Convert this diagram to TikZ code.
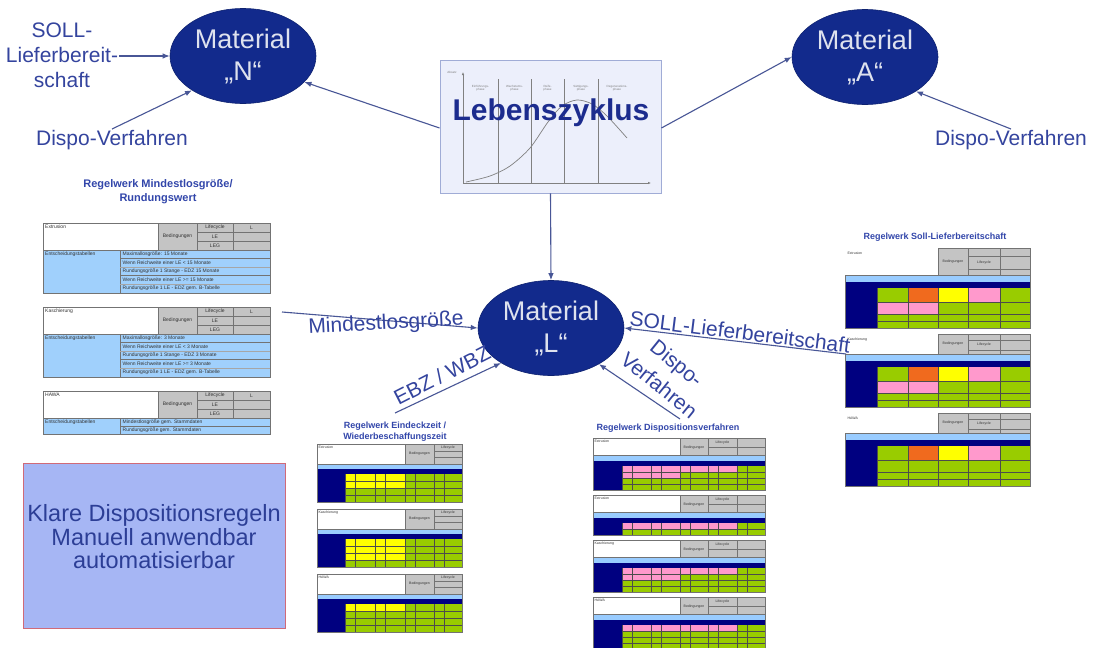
\documentclass[tikz,border=0pt]{standalone}
\usepackage{fontspec}
\setmainfont{Liberation Sans}
\usetikzlibrary{arrows.meta,shapes.geometric}

\definecolor{navyfill}{RGB}{18,42,140}
\definecolor{mattxt}{RGB}{222,226,238}
\definecolor{labcol}{RGB}{52,68,158}
\definecolor{conncol}{RGB}{72,86,150}
\definecolor{ttlcol}{RGB}{50,70,170}
\definecolor{lzfill}{RGB}{236,239,251}
\definecolor{lzdraw}{RGB}{160,172,214}
\definecolor{lztxt}{RGB}{28,44,142}
\definecolor{cellgray}{RGB}{196,196,196}
\definecolor{tabblue}{RGB}{160,208,252}
\definecolor{stripblue}{RGB}{153,204,255}
\definecolor{xlnavy}{RGB}{0,0,128}
\definecolor{xlgreen}{RGB}{153,204,0}
\definecolor{xlyellow}{RGB}{255,255,0}
\definecolor{xlpink}{RGB}{255,153,204}
\definecolor{xlorange}{RGB}{240,106,30}
\definecolor{klarfill}{RGB}{166,182,244}
\definecolor{klardraw}{RGB}{208,106,120}
\definecolor{klartxt}{RGB}{44,62,150}

\tikzset{
  labtxt/.style={text=labcol, font=\fontsize{21}{25}\selectfont, align=center, inner sep=1pt},
  matel/.style={ellipse, fill=navyfill, draw=navyfill!80!black, line width=0.6pt,
    minimum width=146pt, minimum height=95pt, inner sep=0pt, text=mattxt,
    font=\fontsize{27}{32}\selectfont, align=center},
  conn/.style={draw=conncol, line width=1.1pt, -{Latex[length=7pt,width=5.5pt]}},
  tabline/.style={draw=black!55, line width=0.35pt},
  gridline/.style={draw=black!70, line width=0.3pt},
  tinytxt/.style={font=\fontsize{5}{5.5}\selectfont, inner sep=0.5pt, text=black!80},
  tinytxtb/.style={font=\fontsize{3.5}{4}\selectfont, inner sep=0.4pt, text=black!80},
  ttl/.style={font=\bfseries\fontsize{9}{11}\selectfont, text=ttlcol, align=center, inner sep=0pt},
  chartline/.style={draw=black!50, line width=0.7pt},
  phasetxt/.style={font=\fontsize{3}{3.4}\selectfont, text=black!50, align=center, inner sep=0pt},
}

% table with plant header and rule text (Mindestlosgröße)
\newcommand\mlHead[1]{%
  \draw[tabline,fill=white] (0,0) rectangle (115,27);
  \node[tinytxt,anchor=north west] at (1.5,1.5) {#1};
  \draw[tabline,fill=cellgray] (115,0) rectangle (227,27);
  \draw[tabline] (154,0) -- (154,27) (190,0) -- (190,27) (154,9) -- (227,9) (154,18) -- (227,18);
  \node[tinytxt] at (134.5,13.5) {Bedingungen};
  \node[tinytxt] at (172,4.5) {Lifecycle};
  \node[tinytxt] at (208.5,4.5) {L};
  \node[tinytxt] at (172,13.5) {LE};
  \node[tinytxt] at (172,22.5) {LEG};
}
\newcommand\mlRows[5]{%
  \draw[tabline,fill=tabblue] (0,27) rectangle (227,70);
  \draw[tabline] (77,27) -- (77,70) (77,35) -- (227,35) (77,52) -- (227,52);
  \draw[tabline,draw=black!35] (77,44) -- (227,44) (77,61) -- (227,61);
  \node[tinytxt,anchor=north west] at (1.5,28.5) {Entscheidungstabellen};
  \node[tinytxt,anchor=west] at (79,31) {#1};
  \node[tinytxt,anchor=west] at (79,39.5) {#2};
  \node[tinytxt,anchor=west] at (79,48) {#3};
  \node[tinytxt,anchor=west] at (79,56.5) {#4};
  \node[tinytxt,anchor=west] at (79,65.5) {#5};
}
% Eindeckzeit table: #1 plant, #2 number of yellow rows
\newcommand\ezTab[2]{%
  \draw[tabline,fill=white] (0,0) rectangle (88,20);
  \node[tinytxtb,anchor=north west] at (1,1) {#1};
  \draw[tabline,fill=cellgray] (88,0) rectangle (145,20);
  \draw[tabline] (117,0) -- (117,20) (117,7) -- (145,7) (117,13) -- (145,13);
  \node[tinytxtb] at (102.5,10) {Bedingungen};
  \node[tinytxtb] at (131,3.5) {Lifecycle};
  \fill[stripblue] (0,20) rectangle (145,25);
  \fill[xlnavy] (0,25) rectangle (145,30);
  \fill[xlnavy] (0,30) rectangle (28,58);
  \fill[xlgreen] (28,30) rectangle (145,58);
  \fill[xlyellow] (28,30) rectangle (88,30+7*#2);
  \draw[gridline] (28,37) -- (145,37) (28,44) -- (145,44) (28,51) -- (145,51);
  \foreach \gx in {28,38,58,68,88,98,117,127} {\draw[gridline] (\gx,30) -- (\gx,58);}
  \draw[tabline] (0,20) rectangle (145,58);
}
% Dispositionsverfahren table: #1 plant, #2 rows, #3 second pink row
\newcommand\dvTab[3]{%
  \draw[tabline,fill=white] (0,0) rectangle (87,17);
  \node[tinytxtb,anchor=north west] at (1,1) {#1};
  \draw[tabline,fill=cellgray] (87,0) rectangle (172,17);
  \draw[tabline] (115,0) -- (115,17) (144,0) -- (144,17) (115,9) -- (172,9);
  \node[tinytxtb] at (101,9.5) {Bedingungen};
  \node[tinytxtb] at (129.5,4.5) {Lifecycle};
  \fill[stripblue] (0,17) rectangle (172,23);
  \fill[xlnavy] (0,23) rectangle (172,28);
  \fill[xlnavy] (0,28) rectangle (29,28+6*#2);
  \fill[xlgreen] (29,28) rectangle (172,28+6*#2);
  \fill[xlpink] (29,28) rectangle (144,34);
  \ifnum#3=1 \fill[xlpink] (29,34) rectangle (87,40); \fi
  \pgfmathtruncatemacro\dvlast{#2-1}%
  \foreach \r in {1,...,\dvlast} {\draw[gridline] (29,28+6*\r) -- (172,28+6*\r);}
  \foreach \gx in {29,39,58,68,87,97,115,125,144,154} {\draw[gridline] (\gx,28) -- (\gx,28+6*#2);}
  \draw[tabline] (0,17) rectangle (172,28+6*#2);
}
% Soll-Lieferbereitschaft table: #1 plant, #2 header height, #3 second pink row
\newcommand\slTab[3]{%
  \node[tinytxtb,anchor=north west] at (2,3) {#1};
  \draw[tabline,fill=cellgray] (93,0) rectangle (185,#2);
  \draw[tabline] (123,0) -- (123,#2) (155,0) -- (155,#2)
    (123,#2*0.3) -- (185,#2*0.3) (123,#2*0.8) -- (185,#2*0.8);
  \node[tinytxtb] at (108,#2*0.5) {Bedingungen};
  \node[tinytxtb] at (139,#2*0.55) {Lifecycle};
  \fill[stripblue] (0,#2) rectangle (185,#2+7);
  \fill[xlnavy] (0,#2+7) rectangle (185,#2+13);
  \fill[xlnavy] (0,#2+13) rectangle (32,#2+53);
  \fill[xlgreen] (32,#2+13) rectangle (185,#2+53);
  \fill[xlorange] (63,#2+13) rectangle (93,#2+27);
  \fill[xlyellow] (93,#2+13) rectangle (123,#2+27);
  \fill[xlpink] (123,#2+13) rectangle (155,#2+27);
  \ifnum#3=1 \fill[xlpink] (32,#2+27) rectangle (93,#2+39); \fi
  \draw[gridline] (32,#2+27) -- (185,#2+27) (32,#2+39) -- (185,#2+39) (32,#2+46) -- (185,#2+46);
  \foreach \gx in {32,63,93,123,155} {\draw[gridline] (\gx,#2+13) -- (\gx,#2+53);}
  \draw[tabline] (0,#2) rectangle (185,#2+53);
}

\begin{document}
\begin{tikzpicture}[x=1pt,y=-1pt]
\useasboundingbox (0,0) rectangle (1096,648);
\fill[white] (0,0) rectangle (1096,648);

% ---------- material ellipses ----------
\node[matel] (N) at (243,56) {Material\\„N“};
\node[matel] (A) at (865,57) {Material\\„A“};
\node[matel] (L) at (551,328) {Material\\„L“};

% ---------- life cycle chart ----------
\node[draw=lzdraw, fill=lzfill, line width=0.9pt, minimum width=221pt, minimum height=133pt, inner sep=0pt] (LZ) at (550.5,126.5) {};
\draw[chartline,-{Latex[length=3pt,width=2.5pt]}] (463,183) -- (463,72);
\draw[chartline,-{Latex[length=3pt,width=2.5pt]}] (463,183) -- (651,183);
\foreach \px in {498,531,564,598} {\draw[chartline] (\px,79) -- (\px,183);}
\draw[chartline] plot[smooth] coordinates {(466,182) (490,176) (510,166) (530,148) (548,122) (562,106) (577,100) (592,104) (607,116) (627,138)};
\node[phasetxt] (absatz) at (452,72) {Absatz};
\node[phasetxt] (ph1) at (480.5,88) {Einführungs-\\phase};
\node[phasetxt] (ph2) at (514.5,88) {Wachstums-\\phase};
\node[phasetxt] (ph3) at (547.5,88) {Reife-\\phase};
\node[phasetxt] (ph4) at (581,88) {Sättigungs-\\phase};
\node[phasetxt] (ph5) at (617,88) {Degenerations-\\phase};
\node[text=lztxt, font=\bfseries\fontsize{30}{34}\selectfont, inner sep=0pt] (lzText) at (551,113) {Lebenszyklus};

% ---------- free labels near N and A ----------
\node[labtxt] (sollN) at (62,55) {SOLL-\\Lieferbereit-\\schaft};
\node[labtxt] (dispoN) at (112,140) {Dispo-Verfahren};
\node[labtxt] (dispoA) at (1011,140) {Dispo-Verfahren};

% ---------- connectors ----------
\draw[conn] (LZ.west |- 0,128) -- (N.-23);
\draw[conn] (LZ.east |- 0,128) -- (A.west);
\draw[conn] (LZ.south) -- (L.north);
\draw[conn] (sollN.east |- N.west) -- (N.west);
\draw[conn] (dispoN.north) -- (N.214);
\draw[conn] (dispoA.north) -- (A.-34);

% ---------- rule set: Mindestlosgröße ----------
\node[ttl, font=\bfseries\fontsize{11}{14}\selectfont] (mlTitle) at (158,192) {Regelwerk Mindestlosgröße/\\Rundungswert};
\begin{scope}[shift={(43,223)}]
  \mlHead{Extrusion}
  \mlRows{Maximallosgröße: 15 Monate}{Wenn Reichweite einer LE < 15 Monate}{Rundungsgröße 1 Stange - EDZ 15 Monate}{Wenn Reichweite einer LE >= 15 Monate}{Rundungsgröße 1 LE - EDZ gem. B-Tabelle}
\end{scope}
\begin{scope}[shift={(43,307)}]
  \mlHead{Kaschierung}
  \mlRows{Maximallosgröße: 3 Monate}{Wenn Reichweite einer LE < 3 Monate}{Rundungsgröße 1 Stange - EDZ 3 Monate}{Wenn Reichweite einer LE >= 3 Monate}{Rundungsgröße 1 LE - EDZ gem. B-Tabelle}
\end{scope}
\begin{scope}[shift={(43,391)}]
  \mlHead{HAWA}
  \draw[tabline,fill=tabblue] (0,27) rectangle (227,43);
  \draw[tabline] (77,27) -- (77,43) (77,35) -- (227,35);
  \node[tinytxt,anchor=north west] at (1.5,28.5) {Entscheidungstabellen};
  \node[tinytxt,anchor=west] at (79,31) {Mindestlosgröße gem. Stammdaten};
  \node[tinytxt,anchor=west] at (79,39) {Rundungsgröße gem. Stammdaten};
\end{scope}
\coordinate (mlFrom) at (282,312);

% ---------- rule set: Eindeckzeit ----------
\node[ttl] (ezTitle) at (395,432) {Regelwerk Eindeckzeit /\\Wiederbeschaffungszeit};
\begin{scope}[shift={(317,444)}] \ezTab{Extrusion}{2} \end{scope}
\begin{scope}[shift={(317,509)}] \ezTab{Kaschierung}{3} \end{scope}
\begin{scope}[shift={(317,574)}] \ezTab{HAWA}{1} \end{scope}
\coordinate (ebzFrom) at (395,413);

% ---------- rule set: Dispositionsverfahren ----------
\node[ttl] (dvTitle) at (668,428) {Regelwerk Dispositionsverfahren};
\begin{scope}[shift={(593,438)}] \dvTab{Extrusion}{4}{1} \end{scope}
\begin{scope}[shift={(593,495)}] \dvTab{Extrusion}{2}{0} \end{scope}
\begin{scope}[shift={(593,540)}] \dvTab{Kaschierung}{4}{1} \end{scope}
\begin{scope}[shift={(593,597)}] \dvTab{HAWA}{4}{0} \end{scope}
\coordinate (dvFrom) at (680,419);

% ---------- rule set: Soll-Lieferbereitschaft ----------
\node[ttl] (slTitle) at (935,237) {Regelwerk Soll-Lieferbereitschaft};
\begin{scope}[shift={(845,248)}] \slTab{Extrusion}{27}{1} \end{scope}
\begin{scope}[shift={(845,334)}] \slTab{Kaschierung}{20}{1} \end{scope}
\begin{scope}[shift={(845,413)}] \slTab{HAWA}{20}{0} \end{scope}
\coordinate (slFrom) at (846,354);

% ---------- rule connectors into material L ----------
\draw[conn] (mlFrom) -- (L.west);
\draw[conn] (slFrom) -- (L.east);
\draw[conn] (ebzFrom) -- (L.215);
\draw[conn] (dvFrom) -- (L.-37);
\node[labtxt, rotate=3] (mlLab) at (386,324) {Mindestlosgröße};
\node[labtxt, rotate=-7] (slLab) at (740,332) {SOLL-Lieferbereitschaft};
\node[labtxt, rotate=27] (ebzLab) at (442,375) {EBZ / WBZ};
\node[labtxt, rotate=-39, font=\fontsize{21}{28}\selectfont] (dvLab) at (668,374) {Dispo-\\Verfahren};

% ---------- summary box ----------
\node[draw=klardraw, fill=klarfill, line width=0.8pt, minimum width=262pt, minimum height=165pt, inner sep=0pt] (klar) at (154,545.5) {};
\node[text=klartxt, font=\fontsize{23.5}{23.5}\selectfont, align=center, inner sep=0pt] (klarText) at (154,537) {Klare Dispositionsregeln\\Manuell anwendbar\\automatisierbar};
\end{tikzpicture}
\end{document}
